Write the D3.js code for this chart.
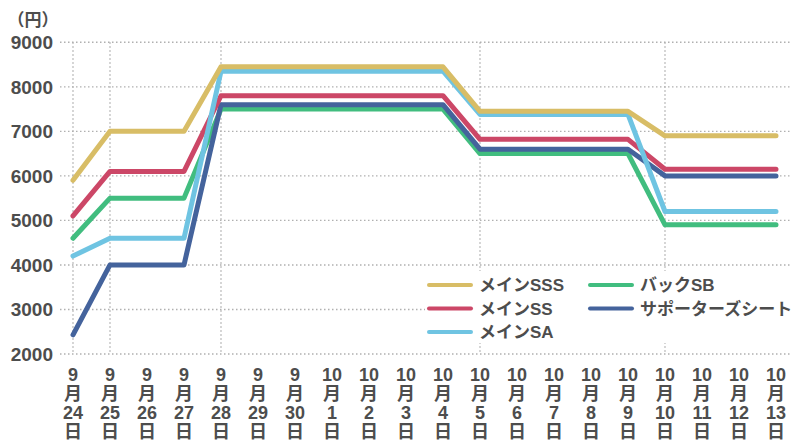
<!DOCTYPE html>
<html>
<head>
<meta charset="utf-8">
<script src="https://cdn.jsdelivr.net/npm/d3@7"></script>
<style>
	body { margin:0; background:#fff; }
	svg text { font-family: "Liberation Sans", "Noto Sans CJK JP", sans-serif; fill:#4d4d4d; }
</style>
</head>
<body>
<div id="chart"></div>
<script>

// days on the x axis (month, day)
var months = [9,9,9,9,9,9,9,10,10,10,10,10,10,10,10,10,10,10,10,10];
var days   = [24,25,26,27,28,29,30,1,2,3,4,5,6,7,8,9,10,11,12,13];

// price of each seat per day (円)
var mainSSS   = [5900,7000,7000,7000,8450,8450,8450,8450,8450,8450,8450,7450,7450,7450,7450,7450,6900,6900,6900,6900];
var mainSS    = [5100,6100,6100,6100,7800,7800,7800,7800,7800,7800,7800,6820,6820,6820,6820,6820,6150,6150,6150,6150];
var mainSA    = [4200,4600,4600,4600,8350,8350,8350,8350,8350,8350,8350,7380,7380,7380,7380,7380,5200,5200,5200,5200];
var backSB    = [4600,5500,5500,5500,7500,7500,7500,7500,7500,7500,7500,6500,6500,6500,6500,6500,4900,4900,4900,4900];
var supporter = [2430,4000,4000,4000,7600,7600,7600,7600,7600,7600,7600,6600,6600,6600,6600,6600,6000,6000,6000,6000];

// y ticks and the days that get a vertical grid line
var yTicks = [2000,3000,4000,5000,6000,7000,8000,9000];
var gridDays = [0,1,4,11,16];

var series = [
	{ name:"バックSB", values:backSB, color:"#41bd7f" },
	{ name:"サポーターズシート", values:supporter, color:"#44639c" },
	{ name:"メインSS", values:mainSS, color:"#cc4767" },
	{ name:"メインSA", values:mainSA, color:"#6fc4e2" },
	{ name:"メインSSS", values:mainSSS, color:"#d8bd66" }
];

// legend layout order
var legendItems = [
	{ name:"メインSSS", color:"#d8bd66", col:0, row:0 },
	{ name:"メインSS", color:"#cc4767", col:0, row:1 },
	{ name:"メインSA", color:"#6fc4e2", col:0, row:2 },
	{ name:"バックSB", color:"#41bd7f", col:1, row:0 },
	{ name:"サポーターズシート", color:"#44639c", col:1, row:1 }
];

var width = 800, height = 448;

var svg = d3.select("#chart").append("svg")
	.attr("width", width)
	.attr("height", height);

var idx = d3.range(days.length);

var x = d3.scalePoint()
	.domain(idx)
	.range([73, 776]);

var y = d3.scaleLinear()
	.domain([2000, 9000])
	.range([354, 42.3]);

// horizontal grid
svg.append("g")
	.selectAll("line")
	.data(yTicks)
	.enter().append("line")
	.attr("x1", 60).attr("x2", 792)
	.attr("y1", function(d){ return y(d); })
	.attr("y2", function(d){ return y(d); })
	.attr("stroke", "#b0b0b0")
	.attr("stroke-width", 1.4)
	.attr("stroke-dasharray", "1.5,2.5");

// vertical grid
svg.append("g")
	.selectAll("line")
	.data(gridDays)
	.enter().append("line")
	.attr("x1", function(d){ return x(d); })
	.attr("x2", function(d){ return x(d); })
	.attr("y1", y(9000)).attr("y2", y(2000))
	.attr("stroke", "#b0b0b0")
	.attr("stroke-width", 1.4)
	.attr("stroke-dasharray", "1.5,2.5");

// y labels
svg.append("g")
	.selectAll("text")
	.data(yTicks)
	.enter().append("text")
	.attr("x", 53)
	.attr("y", function(d){ return y(d); })
	.attr("dy", "0.36em")
	.attr("text-anchor", "end")
	.attr("font-size", "19px")
	.attr("font-weight", "bold")
	.text(function(d){ return d; });

svg.append("text")
	.attr("x", 33)
	.attr("y", 20)
	.attr("dy", "0.36em")
	.attr("text-anchor", "middle")
	.attr("font-size", "17px")
	.attr("font-weight", "bold")
	.text("（円）");

// x labels, four rows stacked
var xl = svg.append("g")
	.selectAll("text")
	.data(idx)
	.enter().append("text")
	.attr("text-anchor", "middle")
	.attr("font-size", "18px")
	.attr("font-weight", "bold");

xl.each(function(i){
	var t = d3.select(this);
	var rows = [months[i], "月", days[i], "日"];
	rows.forEach(function(r, k){
		t.append("tspan")
			.attr("x", x(i))
			.attr("y", 375 + k * 19)
			.attr("dy", "0.36em")
			.text(r);
	});
});

// lines
var line = d3.line()
	.x(function(d, i){ return x(i); })
	.y(function(d){ return y(d); });

svg.append("g")
	.selectAll("path")
	.data(series)
	.enter().append("path")
	.attr("d", function(d){ return line(d.values); })
	.attr("fill", "none")
	.attr("stroke", function(d){ return d.color; })
	.attr("stroke-width", 5)
	.attr("stroke-linecap", "round")
	.attr("stroke-linejoin", "round");

// legend
var legend = svg.append("g");

legend.append("rect")
	.attr("x", 425).attr("y", 271)
	.attr("width", 370).attr("height", 72)
	.attr("fill", "#fff");

var li = legend.selectAll("g")
	.data(legendItems)
	.enter().append("g")
	.attr("transform", function(d){
		return "translate(" + (429 + d.col * 161) + "," + (285 + d.row * 23.5) + ")";
	});

li.append("line")
	.attr("x1", 0).attr("x2", 42)
	.attr("stroke", function(d){ return d.color; })
	.attr("stroke-width", 4)
	.attr("stroke-linecap", "round");

li.append("text")
	.attr("x", 50)
	.attr("dy", "0.36em")
	.attr("font-size", "17px")
	.attr("font-weight", "bold")
	.text(function(d){ return d.name; });

</script>
</body>
</html>
